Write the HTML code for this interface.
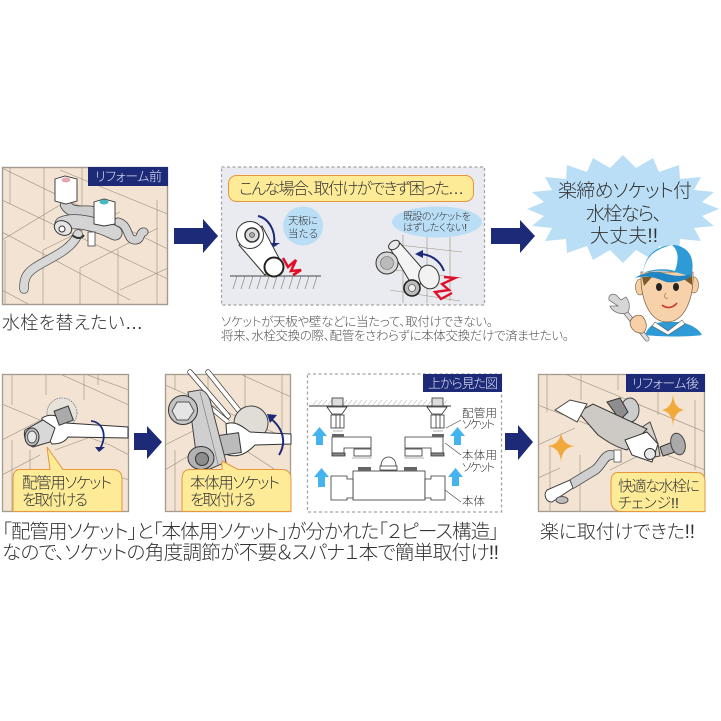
<!DOCTYPE html>
<html lang="ja"><head><meta charset="utf-8"><style>
html,body{margin:0;padding:0;background:#fff}
svg{display:block}
text{font-family:"Liberation Sans","Noto Sans CJK JP",sans-serif;fill:#333;font-weight:300;font-feature-settings:"palt"}
.w{fill:none;stroke:#9a9080;stroke-width:.6}
.lab{fill:#dfe3f2;font-size:13px}
</style></head><body>
<svg width="721" height="721" viewBox="0 0 721 721" xmlns="http://www.w3.org/2000/svg">
<defs>
<clipPath id="c1"><rect x="2" y="167" width="166" height="138"/></clipPath>
<clipPath id="c2"><rect x="2" y="374" width="127" height="138"/></clipPath>
<clipPath id="c3"><rect x="165" y="374" width="126" height="138"/></clipPath>
<clipPath id="c5"><rect x="538" y="374" width="167" height="138"/></clipPath>
</defs>
<rect width="721" height="721" fill="#fff"/>

<!-- Panel 1 -->
<rect x="2" y="167" width="166" height="138" fill="#f3e3d2"/>
<g clip-path="url(#c1)" class="w">
<path d="M10 167V204M44 167V240M82 167V205M5 240V305M43 250V305M80 268V305M118 250V305M157 200V305"/>
<path d="M2 168L170 250M2 200L170 280M2 232L130 300M60 170L170 215M2 240L60 205M43 250L120 212M80 268L158 228M120 290L168 268M2 290L30 305"/>
</g>
<rect x="2.5" y="167.5" width="165" height="137" fill="none" stroke="#a39b90" stroke-width="1.4"/>
<rect x="88" y="167" width="80" height="19" fill="#1c2a78"/>
<text x="95" y="181" class="lab" textLength="67">リフォーム前</text>
<!-- faucet 1 -->
<g fill="none" stroke-linecap="round" stroke-linejoin="round">
<path d="M118 222C130 225 126 240 135 240C142 240 139 232 144 232" stroke="#444" stroke-width="9"/>
<path d="M118 222C130 225 126 240 135 240C142 240 139 232 144 232" stroke="#d2d2d2" stroke-width="7.4"/>
<path d="M78 234C70 255 35 262 27 275C24 280 24 285 24 289" stroke="#555" stroke-width="9.5"/>
<path d="M78 234C70 255 35 262 27 275C24 280 24 285 24 289" stroke="#d8d8d8" stroke-width="8"/>
<path d="M66 205C72 215 85 210 92 212" stroke="#444" stroke-width="12"/>
<path d="M66 205C72 215 85 210 92 212" stroke="#cdcdcd" stroke-width="10.4"/>
<path d="M62 224C75 218 100 225 115 233" stroke="#444" stroke-width="15"/>
<path d="M62 224C75 218 100 225 115 233" stroke="#d4d4d4" stroke-width="13.4"/>
</g>
<rect x="88" y="232" width="7" height="14" fill="#fff" stroke="#444" stroke-width=".8"/>
<ellipse cx="63" cy="228" rx="9" ry="7" fill="#e4e4e4" stroke="#333" transform="rotate(25 63 228)"/>
<ellipse cx="62" cy="229" rx="3" ry="3" fill="#fff" stroke="#333"/>
<path d="M72 235C78 240 82 238 84 235" fill="none" stroke="#333" stroke-width="2"/>
<path d="M55 179L65 176L77 179V201L66 204L55 201Z" fill="#fff" stroke="#333" stroke-width=".9"/>
<ellipse cx="66" cy="180" rx="4.5" ry="2.5" fill="#e8a8b0"/>
<path d="M94 202L104 199L115 202V224L104 226L94 224Z" fill="#fff" stroke="#333" stroke-width=".9"/>
<ellipse cx="104" cy="202" rx="4.5" ry="2.5" fill="#48b8c0"/>

<!-- arrows -->
<polygon points="174,228 203,228 203,219 218,236 203,253 203,244 174,244" fill="#1c2a78"/>
<polygon points="491,228 520,228 520,220 535,236 520,253 520,244 491,244" fill="#1c2a78"/>
<polygon points="134,433 147,433 147,426 162,442 147,459 147,450 134,450" fill="#1c2a78"/>
<polygon points="505,433 518,433 518,425 533,442 518,460 518,450 505,450" fill="#1c2a78"/>

<!-- dashed box top -->
<rect x="221.5" y="167" width="263" height="138" fill="#eaebf0" stroke="#a5a5a5" stroke-width="1.3" stroke-dasharray="3 2.5"/>
<rect x="228.5" y="175.5" width="245" height="26" rx="8" fill="#fdeb98" stroke="#e8963c" stroke-width="1"/>
<text x="239" y="194" font-size="16" textLength="225">こんな場合、取付けができず困った…</text>
<ellipse cx="303" cy="226" rx="20" ry="19.5" fill="#b9def5"/>
<text x="288" y="224" font-size="10.5" textLength="30">天板に</text>
<text x="288" y="237" font-size="10.5" textLength="30">当たる</text>
<ellipse cx="437" cy="222" rx="45" ry="15.5" fill="#b9def5"/>
<text x="403" y="220" font-size="10" textLength="68">既設のソケットを</text>
<text x="403" y="231" font-size="10" textLength="64">はずしたくない!</text>
<!-- left mechanism -->
<path d="M230 276H321" stroke="#444" stroke-width="1"/>
<path d="M233 289l4-13M241 289l4-13M249 289l4-13M257 289l4-13M265 289l4-13M273 289l4-13M281 289l4-13M289 289l4-13M297 289l4-13M305 289l4-13M313 289l4-13" stroke="#777" stroke-width=".6"/>
<path d="M239 245L265 275L281 262L262 226Z" fill="#fff" stroke="#333"/>
<circle cx="250" cy="235" r="13.5" fill="#fff" stroke="#333"/>
<circle cx="252" cy="235" r="7" fill="#ddd" stroke="#333" stroke-width="1.5"/>
<circle cx="252" cy="235" r="2.5" fill="#aaa" stroke="#333" stroke-width=".6"/>
<circle cx="274" cy="267" r="9.5" fill="#fff" stroke="#222" stroke-width="2"/>
<path d="M258 216C268 218 276 230 274 244" fill="none" stroke="#1c2a78" stroke-width="2"/>
<polygon points="270,243 280,243 274,247" fill="#1c2a78"/>
<path d="M283 258L288 267L296 260L291 271L301 270L293 275" fill="none" stroke="#e0102a" stroke-width="2.6"/>
<!-- right mechanism -->
<path d="M403 235V303M427 237V303M450 237V301M390 244L462 252M395 270L462 278M390 290L460 301" class="w"/>
<path d="M391 250L400 243L428 275L415 290Z" fill="#f4f4f4" stroke="#333"/>
<ellipse cx="394" cy="245" rx="6" ry="4" fill="#e8e8e8" stroke="#333" transform="rotate(-35 394 245)"/>
<circle cx="387" cy="263" r="11" fill="#d6d6d6" stroke="#333"/>
<circle cx="387" cy="263" r="6.5" fill="#bbb" stroke="#666" stroke-width=".6"/>
<ellipse cx="429" cy="277" rx="10" ry="12" fill="#f2f2f2" stroke="#333" transform="rotate(-20 429 277)"/>
<circle cx="412" cy="288" r="8" fill="#bbb" stroke="#222" stroke-width="1.6"/>
<circle cx="412" cy="288" r="3.5" fill="#eee" stroke="#333" stroke-width=".6"/>
<path d="M444 271C440 260 430 254 419 254" fill="none" stroke="#1c2a78" stroke-width="2"/>
<polygon points="415,254 423,250 423,258" fill="#1c2a78"/>
<path d="M444 277L455 278L442 284L449 290L435 292L441 299L452 293" fill="none" stroke="#e0102a" stroke-width="2.4"/>
<text x="221" y="326" font-size="12.5" style="fill:#555" textLength="272">ソケットが天板や壁などに当たって、取付けできない。</text>
<text x="221" y="340" font-size="12.5" style="fill:#555" textLength="348">将来、水栓交換の際、配管をさわらずに本体交換だけで済ませたい。</text>
<text x="2" y="329" font-size="18" textLength="141">水栓を替えたい…</text>

<!-- burst -->
<polygon fill="#b9def5" points="719,209 702,216 714,226 694,228 701,241 680,239 679,253 659,246 653,260 636,250 623,263 610,250 593,260 587,246 567,253 566,239 545,241 552,228 532,226 544,216 527,209 544,202 532,192 552,190 545,177 566,179 567,165 587,172 593,158 610,168 623,155 636,168 653,158 659,172 679,165 680,179 701,177 694,190 714,192 702,202"/>
<text x="558" y="197" font-size="19" textLength="134">楽締めソケット付</text>
<text x="586" y="220" font-size="19" textLength="76">水栓なら、</text>
<text x="590" y="242" font-size="19" textLength="68">大丈夫!!</text>
<!-- person -->
<path d="M645 335C648 326 655 322 665 322H680C690 324 698 328 702 335C690 337 660 337 645 335Z" fill="#2f9bd6"/>
<path d="M655 322L668 331L682 320L685 324L668 335L652 326Z" fill="#fff" stroke="#555" stroke-width=".6"/>
<ellipse cx="640" cy="287" rx="4.5" ry="8" fill="#f5cfa6" stroke="#7a5a3a" stroke-width=".6"/>
<ellipse cx="694" cy="285" rx="4.5" ry="8" fill="#f5cfa6" stroke="#7a5a3a" stroke-width=".6"/>
<path d="M641 272C640 300 650 322 667 322C684 322 694 300 693 272Z" fill="#f7d1aa" stroke="#7a5a3a" stroke-width=".7"/>
<path d="M642 277L652 277L644 286ZM692 272L682 278L692 285Z" fill="#7c5a2a"/>
<path d="M643 273C645 252 660 245 675 245C692 248 695 262 691 277C680 272 660 268 643 273Z" fill="#2f9bd6"/>
<path d="M643 273C645 260 651 250 672 245C680 252 678 262 675 271C665 268 652 269 643 273Z" fill="#fff"/>
<path d="M635 278C642 273 655 270 667 274C675 276 682 277 690 274L690 277C682 282 672 283 666 282C655 277 645 275 635 278Z" fill="#1f86c6"/>
<ellipse cx="659" cy="287" rx="3" ry="4" fill="#222"/>
<ellipse cx="676" cy="287" rx="3" ry="4" fill="#222"/>
<path d="M666 293C663 297 665 299 668 298" fill="none" stroke="#a5764a" stroke-width=".7"/>
<path d="M662 305C667 309 673 308 677 303" fill="none" stroke="#d0302a" stroke-width="1.5"/>
<path d="M622 308L647 339" stroke="#777" stroke-width="5" stroke-linecap="round"/>
<path d="M622 308L647 339" stroke="#dcdcdc" stroke-width="3.4" stroke-linecap="round"/>
<path d="M609 300C608 295 612 293 616 295L621 300L626 297C630 302 630 308 628 312C622 316 612 312 610 306L618 306Z" fill="#d6d6d6" stroke="#777" stroke-width=".8"/>
<path d="M630 322C632 316 638 314 642 316C647 321 648 329 643 333C636 334 630 329 630 322Z" fill="#f7cfa8" stroke="#7a5a3a" stroke-width=".7"/>

<!-- Panel 2 -->
<rect x="2" y="374" width="127" height="138" fill="#f3e3d2"/>
<g clip-path="url(#c2)" class="w">
<path d="M12 374V405M46 374V395M84 374V400M12 440V512M98 374V385M30 450V512"/>
<path d="M2 404L40 420L110 445L129 455M60 374L129 405M2 440L70 405M2 475L40 455M55 450L110 430M85 374L129 390M100 470L129 480"/>
</g>
<rect x="2.5" y="374.5" width="126" height="137" fill="none" stroke="#a39b90" stroke-width="1.3"/>
<ellipse cx="62" cy="413" rx="15" ry="15" fill="#e7e2da" stroke="#777" stroke-width=".8" stroke-dasharray="1.5 1"/>
<path d="M42 418C50 413 60 415 66 423L128 427V438L68 437C65 442 60 444 52 444L42 430Z" fill="#fff" stroke="#333"/>
<rect x="56" y="408" width="15" height="15" fill="#aaa" stroke="#333" transform="rotate(-20 64 415)"/>
<path d="M25 430L43 420L55 428L50 442L33 447C26 444 23 436 25 430Z" fill="#d8d8d8" stroke="#333"/>
<ellipse cx="32" cy="437" rx="7" ry="9" fill="#bdbdbd" stroke="#333"/>
<ellipse cx="32" cy="437" rx="4.5" ry="6" fill="#e8e8e8" stroke="#555"/>
<path d="M91 421C102 422 108 434 100 449" fill="none" stroke="#1c2a78" stroke-width="1.8"/>
<polygon points="95,447 105,447 99,452" fill="#1c2a78"/>
<path d="M20 469.5H50L47 447L63 469.5H112Q122 469.5 122 479V511.5H13V479Q13 469.5 20 469.5Z" fill="#fdeb98" stroke="#e8963c"/>
<text x="22" y="488" font-size="15.5" textLength="90">配管用ソケット</text>
<text x="22" y="505" font-size="15.5" textLength="66">を取付ける</text>

<!-- Panel 3 -->
<rect x="165" y="374" width="126" height="138" fill="#f3e3d2"/>
<g clip-path="url(#c3)" class="w">
<path d="M175 374V390M208 374V392M245 374V410M282 374V430M175 450V512"/>
<path d="M165 385L291 440M240 374L291 397M165 445L195 430M165 470L190 455M245 450L291 480"/>
</g>
<rect x="165.5" y="374.5" width="125" height="137" fill="none" stroke="#a39b90" stroke-width="1.3"/>
<path d="M190 372L228 416M208 372L240 412" stroke="#333" stroke-width="5.4" stroke-linecap="round"/>
<path d="M190 372L228 416M208 372L240 412" stroke="#fff" stroke-width="4" stroke-linecap="round"/>
<path d="M205 403L228 422" stroke="#333" stroke-width="5"/><path d="M205 403L228 422" stroke="#fff" stroke-width="3.6"/>
<ellipse cx="251" cy="423" rx="17" ry="17" fill="#e0dcd6" stroke="#444"/>
<path d="M226 424C236 420 244 428 250 432L291 434V444L255 445C248 452 240 458 228 455Z" fill="#fff" stroke="#333"/>
<rect x="220" y="434" width="20" height="20" fill="#bbb" stroke="#333" transform="rotate(-8 230 444)"/>
<path d="M188 392L200 390C205 390 208 395 210 400L226 462L210 469C204 470 198 466 197 460L193 430Z" fill="#cfcfcf" stroke="#444"/>
<path d="M200 392L218 464" stroke="#777" stroke-width=".6"/>
<circle cx="183" cy="410" r="14.5" fill="#c4c4c4" stroke="#333"/>
<path d="M177 402L189 402L194 411L188 420L177 420L172 411Z" fill="#e5e5e5" stroke="#555"/>
<ellipse cx="201" cy="458" rx="13" ry="11.5" fill="#b2b2b2" stroke="#333"/>
<ellipse cx="202" cy="459" rx="6.5" ry="6.5" fill="#8d8d8d" stroke="#333"/>
<path d="M279 455C287 442 283 428 270 418" fill="none" stroke="#1c2a78" stroke-width="2"/>
<polygon points="267,414 277,415 270,423" fill="#1c2a78"/>
<path d="M190 469.5H222L222 461L238 469.5H281Q291 469.5 291 479V511.5H182V479Q182 469.5 190 469.5Z" fill="#fdeb98" stroke="#e8963c"/>
<text x="190" y="488" font-size="15.5" textLength="90">本体用ソケット</text>
<text x="190" y="505" font-size="15.5" textLength="66">を取付ける</text>

<!-- Panel 4 -->
<rect x="307.5" y="374" width="194" height="138" fill="#fff" stroke="#a5a5a5" stroke-width="1.3" stroke-dasharray="3 2.5"/>
<rect x="423" y="374" width="79" height="18" fill="#1c2a78"/>
<text x="428" y="388" class="lab" textLength="70">上から見た図</text>
<path d="M309 406H451" stroke="#333"/>
<path d="M312 406l5-6M317 406l5-6M322 406l5-6M327 406l5-6M332 406l5-6M337 406l5-6M342 406l5-6M347 406l5-6M352 406l5-6M357 406l5-6M362 406l5-6M367 406l5-6M372 406l5-6M377 406l5-6M382 406l5-6M387 406l5-6M392 406l5-6M397 406l5-6M402 406l5-6M407 406l5-6M412 406l5-6M417 406l5-6M422 406l5-6M427 406l5-6M432 406l5-6M437 406l5-6M442 406l5-6" stroke="#999" stroke-width=".5"/>
<g fill="#fff" stroke="#333" stroke-width=".8">
<rect x="332" y="398" width="11" height="8" fill="#ddd"/><rect x="432" y="398" width="11" height="8" fill="#ddd"/>
<path d="M327 407H347L342 414H332Z"/><path d="M427 407H447L442 414H432Z"/>
<rect x="331" y="415" width="13" height="13"/><rect x="431" y="415" width="13" height="13"/>
<path d="M336 415V428M340 415V428M436 415V428M440 415V428"/>
<path d="M333 431H343M433 431H443" stroke="#999"/>
<path d="M332 437H371V448H344V453H332Z"/>
<path d="M405 437H443V453H431V448H405Z"/>
<rect x="354" y="449" width="17" height="7"/><rect x="405" y="449" width="17" height="7"/>
<path d="M332 453H345V456H332ZM431 453H444V456H431Z" fill="#888"/>
<path d="M352 458H372M404 458H424" stroke="#999"/>
<rect x="353" y="471" width="72" height="29"/>
<path d="M381 470V466C381 454 396 454 396 466V470Z"/>
<path d="M380 470H397V466H380Z"/>
<path d="M331 476H347V479H353V498H347V500H331Z"/>
<path d="M425 479H431V476H445V500H431V498H425Z"/>
</g>
<rect x="358" y="467" width="13" height="4" fill="#666"/><rect x="404" y="467" width="13" height="4" fill="#666"/>
<rect x="332" y="434" width="12" height="3" fill="#666"/><rect x="432" y="434" width="12" height="3" fill="#666"/>
<g fill="#45b3ee">
<polygon points="319.5,427 327,436 323,436 323,445 316,445 316,436 312,436"/>
<polygon points="321.5,468 329,477 325,477 325,487 318,487 318,477 314,477"/>
<polygon points="457.5,427 465,436 461,436 461,445 454,445 454,436 450,436"/>
<polygon points="455.5,468 463,477 459,477 459,486 452,486 452,477 448,477"/>
</g>
<path d="M446 428L461 420M445 443L461 455M445 490L461 502" stroke="#444" stroke-width=".6" fill="none"/>
<text x="462" y="417" font-size="11.5" textLength="35">配管用</text>
<text x="462" y="428" font-size="11.5" textLength="33">ソケット</text>
<text x="462" y="459" font-size="11.5" textLength="35">本体用</text>
<text x="462" y="471" font-size="11.5" textLength="33">ソケット</text>
<text x="462" y="505" font-size="11.5" textLength="23">本体</text>

<!-- Panel 5 -->
<rect x="538" y="374" width="167" height="138" fill="#f3e3d2"/>
<g clip-path="url(#c5)" class="w">
<path d="M547 374V412M581 374V400M618 374V390M658 374V415M550 445V512M580 455V512M620 480V512M695 400V470"/>
<path d="M538 405L705 470M565 374L705 432M538 445L575 428M538 478L560 468M610 470L640 455"/>
</g>
<rect x="538.5" y="374.5" width="166" height="137" fill="none" stroke="#a39b90" stroke-width="1.3"/>
<rect x="626" y="374" width="79" height="18" fill="#1c2a78"/>
<text x="632" y="388" class="lab" textLength="67">リフォーム後</text>
<!-- sparkle -->
<path d="M673 394Q674 408 688 410Q674 412 673 426Q672 412 658 410Q672 408 673 394Z" fill="#f2a93b" transform="translate(673 410) scale(.75 1) translate(-673 -410)"/>
<path d="M561 432Q562 445 575 446Q562 447 561 462Q560 447 547 446Q560 445 561 432Z" fill="#f2a93b"/>
<!-- faucet 5 -->
<ellipse cx="630" cy="410" rx="9" ry="12" fill="#ccc" stroke="#444"/>
<path d="M607 402L620 398L628 412L620 420Z" fill="#8d8d8d" stroke="#333"/>
<path d="M642 427L650 422L658 444L660 456L650 458Z" fill="#d5d0c8" stroke="#444"/>
<path d="M660 447L675 441L678 451L663 456Z" fill="#aaa" stroke="#333"/>
<ellipse cx="678" cy="444" rx="7" ry="11" fill="#aaa" stroke="#444" transform="rotate(-15 678 444)"/>
<path d="M611 455C604 455 602 465 595 470L572 484" fill="none" stroke="#444" stroke-width="10" stroke-linecap="round"/>
<path d="M611 455C604 455 602 465 595 470L572 484" fill="none" stroke="#cfcfcf" stroke-width="8.4" stroke-linecap="round"/>
<rect x="614" y="450" width="7" height="12" fill="#fff" stroke="#444" stroke-width=".7"/>
<path d="M547 490L570 480L573 488L552 502C546 502 543 495 547 490Z" fill="#fff" stroke="#444"/>
<ellipse cx="562" cy="500" rx="6" ry="3.5" fill="#bbb" stroke="#555"/>
<path d="M578 412L593 404L647 429L627 450C615 447 605 440 598 435Z" fill="#cdc9c4" stroke="#333"/>
<path d="M555 410L570 400L587 404L577 422Z" fill="#fff" stroke="#444"/>
<path d="M625 440L647 432L658 444L652 462L632 455Z" fill="#fff" stroke="#333"/>
<circle cx="650" cy="454" r="5.5" fill="#e8e8e8" stroke="#333"/>
<path d="M618 472.5H697Q705 472.5 705 482V511.5H622Q611 511.5 611 500V482Q611 472.5 618 472.5Z" fill="#fdeb98" stroke="#e8963c"/>
<text x="618" y="491" font-size="15" textLength="82">快適な水栓に</text>
<text x="618" y="508" font-size="15" textLength="61">チェンジ!!</text>

<!-- captions -->
<text x="2" y="538" font-size="19.5" textLength="497">「配管用ソケット」と「本体用ソケット」が分かれた「２ピース構造」</text>
<text x="2" y="559" font-size="19.5" textLength="497">なので、ソケットの角度調節が不要＆スパナ１本で簡単取付け!!</text>
<text x="540" y="538" font-size="19" textLength="155">楽に取付けできた!!</text>
</svg>
</body></html>
